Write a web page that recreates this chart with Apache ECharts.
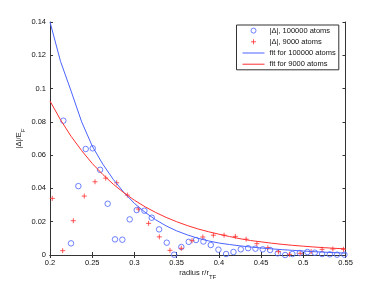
<!DOCTYPE html>
<html>
<head>
<meta charset="utf-8">
<script src="https://cdn.jsdelivr.net/npm/echarts@6/dist/echarts.min.js"></script>
<style>html,body{margin:0;padding:0;background:#fff}#c{width:382px;height:287px}</style>
</head>
<body>
<div id="c"></div>
<script>
// |Δ| for 100000 atoms (blue circles)
const atoms100kX = [0.2158,0.2249,0.2336,0.2423,0.2506,0.2593,0.2683,0.2770,0.2857,0.2944,0.3027,0.3118,0.3205,0.3292,0.3383,0.3470,0.3556,0.3643,0.3730,0.3817,0.3904,0.3995,0.4086,0.4173,0.4260,0.4346,0.4433,0.4520,0.4607,0.4698,0.4785,0.4871,0.4958,0.5049,0.5136,0.5223,0.5314,0.5400,0.5487];
const atoms100kY = [0.0807,0.0070,0.0414,0.0637,0.0641,0.0512,0.0308,0.0094,0.0092,0.0214,0.0270,0.0266,0.0224,0.0154,0.0074,0.0002,0.0048,0.0079,0.0090,0.0081,0.0060,0.0032,0.0006,0.0018,0.0034,0.0041,0.0038,0.0034,0.0030,0.0010,0.0000,0.0006,0.0012,0.0018,0.0014,0.0006,0.0004,0.0002,0.0002];
// |Δ| for 9000 atoms (red plus)
const atoms9kX = [0.2027,0.2150,0.2276,0.2406,0.2533,0.2660,0.2790,0.2916,0.3046,0.3168,0.3295,0.3421,0.3555,0.3682,0.3810,0.3935,0.4062,0.4195,0.4323,0.4450,0.4580,0.4706,0.4836,0.4963,0.5093,0.5223,0.5350,0.5476];
const atoms9kY = [0.0340,0.0026,0.0206,0.0354,0.0440,0.0462,0.0434,0.0360,0.0276,0.0190,0.0109,0.0028,0.0040,0.0086,0.0108,0.0119,0.0119,0.0112,0.0095,0.0068,0.0044,0.0020,0.0004,0.0010,0.0020,0.0034,0.0036,0.0034];
// fit curves
const fitX = [0.2000,0.2125,0.2250,0.2375,0.2500,0.2625,0.2750,0.2875,0.3000,0.3125,0.3250,0.3375,0.3500,0.3625,0.3750,0.3875,0.4000,0.4125,0.4250,0.4375,0.4500,0.4625,0.4750,0.4875,0.5000,0.5125,0.5250,0.5375,0.5500];
const fit100kY = [0.1400,0.1163,0.0985,0.0800,0.0655,0.0546,0.0454,0.0376,0.0310,0.0257,0.0212,0.0175,0.0145,0.0121,0.0101,0.0085,0.0072,0.0063,0.0055,0.0048,0.0042,0.0037,0.0032,0.0028,0.0024,0.0020,0.0017,0.0014,0.0011];
const fit9kY = [0.0925,0.0812,0.0713,0.0627,0.0550,0.0484,0.0425,0.0374,0.0329,0.0290,0.0256,0.0226,0.0200,0.0177,0.0157,0.0140,0.0125,0.0111,0.0098,0.0087,0.0079,0.0071,0.0064,0.0058,0.0053,0.0048,0.0044,0.0040,0.0037];
// axis ticks
const xTicks = {min:0.2, max:0.55, step:0.05};
const yTicks = {min:0, max:0.14, step:0.02};
const legendNames = ['|\u0394|, 100000 atoms','|\u0394|, 9000 atoms','fit for 100000 atoms','fit for 9000 atoms'];

const BLUE = '#4a63ff', RED = '#ff3030', AX = '#333';
const FONT = 'Liberation Sans';
const zip = (a,b) => a.map((v,i)=>[v,b[i]]);
const PLUS = 'path://M0,5 H10 M5,0 V10';
const LINEICON = 'path://M0,0 H44 V2 H0 Z';

const chart = echarts.init(document.getElementById('c'), null, {renderer:'canvas'});
const axisCommon = {
  axisLine:{show:true, lineStyle:{color:AX, width:1}},
  axisTick:{show:true, inside:true, length:3, lineStyle:{color:AX}},
  splitLine:{show:false},
};
const subName = {rich:{a:{fontSize:7.5, fontFamily:FONT, color:'#222', lineHeight:10}, b:{fontSize:6, fontFamily:FONT, color:'#222', verticalAlign:'bottom', lineHeight:14}}};
chart.setOption({
  animation:false,
  backgroundColor:'#fff',
  textStyle:{fontFamily:FONT},
  grid:{left:50, right:36.5, top:22, bottom:32, show:false},
  xAxis:[
    Object.assign({type:'value', position:'bottom', min:xTicks.min, max:xTicks.max, interval:xTicks.step,
      axisLabel:{color:'#111', fontSize:7.5, fontFamily:FONT, margin:4},
      name:'{a|radius r/r}{b|TF}', nameLocation:'middle', nameGap:11, nameMoveOverlap:false, nameTextStyle:subName
    }, axisCommon),
    Object.assign({type:'value', position:'top', min:xTicks.min, max:xTicks.max, interval:xTicks.step,
      axisLabel:{show:false}}, axisCommon)
  ],
  yAxis:[
    Object.assign({type:'value', position:'left', min:yTicks.min, max:yTicks.max, interval:yTicks.step,
      axisLabel:{color:'#111', fontSize:7.5, fontFamily:FONT, margin:4},
      name:'{a|\u007C\u0394\u007C/E}{b|F}', nameLocation:'middle', nameGap:24, nameRotate:90, nameMoveOverlap:false, nameTextStyle:subName
    }, axisCommon),
    Object.assign({type:'value', position:'right', min:yTicks.min, max:yTicks.max, interval:yTicks.step,
      axisLabel:{show:false}}, axisCommon)
  ],
  legend:{
    orient:'vertical', left:236.5, top:25,
    backgroundColor:'#fff', borderColor:AX, borderWidth:1, borderRadius:0,
    padding:[0,3,0,6], itemGap:0, itemWidth:22, itemHeight:5, symbolKeepAspect:true,
    textStyle:{fontSize:7.5, fontFamily:FONT, color:'#111', lineHeight:11.2},
    data:[
      {name:legendNames[0], icon:'circle', itemStyle:{color:'rgba(0,0,0,0)', borderColor:BLUE, borderWidth:1}},
      {name:legendNames[1], icon:PLUS, itemStyle:{color:RED, borderColor:RED, borderWidth:1}},
      {name:legendNames[2], icon:LINEICON, itemStyle:{color:BLUE, borderWidth:0}},
      {name:legendNames[3], icon:LINEICON, itemStyle:{color:RED, borderWidth:0}}
    ]
  },
  series:[
    {name:legendNames[0], type:'scatter', data:zip(atoms100kX, atoms100kY), symbol:'circle', symbolSize:5.5,
      itemStyle:{color:'rgba(0,0,0,0)', borderColor:BLUE, borderWidth:1}},
    {name:legendNames[1], type:'scatter', data:zip(atoms9kX, atoms9kY), symbol:PLUS, symbolSize:5,
      itemStyle:{color:RED, borderColor:RED, borderWidth:1}},
    {name:legendNames[2], type:'line', data:zip(fitX, fit100kY), symbol:'none', showSymbol:false,
      lineStyle:{color:BLUE, width:1}, itemStyle:{color:BLUE}},
    {name:legendNames[3], type:'line', data:zip(fitX, fit9kY), symbol:'none', showSymbol:false,
      lineStyle:{color:RED, width:1}, itemStyle:{color:RED}}
  ]
});
</script>
</body>
</html>
